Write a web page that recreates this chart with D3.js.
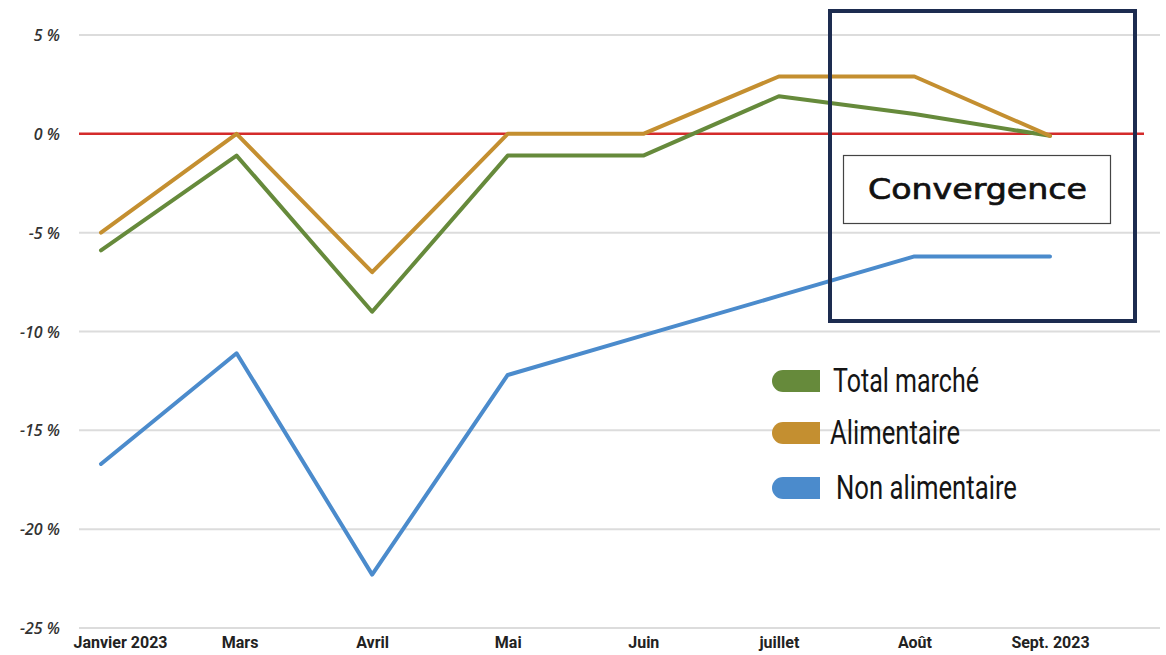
<!doctype html>
<html lang="fr">
<head>
<meta charset="utf-8">
<style>
html, body {
    margin: 0;
    padding: 0;
    background: #fff;
    overflow: hidden;
}
svg {
    display: block;
}
.grid line {
    stroke: #dcdcdc;
    stroke-width: 2;
}
.axis path, .axis line {
    display: none;
}
.y-axis text {
    font-family: "Open Sans", sans-serif;
    font-style: italic;
    font-weight: 600;
    font-size: 16px;
    fill: #333;
}
.x-axis text {
    font-family: "Liberation Sans Narrow", "Roboto", sans-serif;
    font-weight: bold;
    font-size: 16px;
    fill: #222;
}
.serie {
    fill: none;
    stroke-width: 4;
    stroke-linecap: round;
    stroke-linejoin: round;
}
.legend text {
    font-family: "Liberation Sans Narrow", "Roboto", sans-serif;
    font-size: 34px;
    fill: #151515;
}
</style>
</head>
<body>
<svg id="chart" width="1166" height="655"></svg>
<script src="https://cdnjs.cloudflare.com/ajax/libs/d3/7.8.5/d3.min.js"></script>
<script>
const mois = ['Janvier 2023', 'Mars', 'Avril', 'Mai', 'Juin', 'juillet', 'Août', 'Sept. 2023'];
const totalMarche = [-5.9, -1.1, -9.0, -1.1, -1.1, 1.9, 1.0, -0.1];
const alimentaire = [-5.0, 0.0, -7.0, 0.0, 0.0, 2.9, 2.9, -0.1];
const nonAlimentaire = [-16.7, -11.1, -22.3, -12.2, -10.2, -8.2, -6.2, -6.2];
const yTicks = [5, 0, -5, -10, -15, -20, -25];
const seriesNames = ['Total marché', 'Alimentaire', 'Non alimentaire'];
const couleurs = ['#668a3b', '#c48f30', '#4b8bcc'];

const svg = d3.select('#chart');

const x = d3.scalePoint().domain(mois).range([101, 1050]);
const y = d3.scaleLinear().domain([-25, 5]).range([628, 35]);

// grille horizontale
svg.append('g').attr('class', 'grid')
    .selectAll('line').data(yTicks.filter(d => d !== 0)).join('line')
    .attr('x1', 79).attr('x2', 1160)
    .attr('y1', d => y(d)).attr('y2', d => y(d));

// ligne zéro en rouge
svg.append('line')
    .attr('x1', 79).attr('x2', 1144)
    .attr('y1', y(0)).attr('y2', y(0))
    .attr('stroke', '#d42b2b').attr('stroke-width', 2.5);

// axe y
const yAxis = svg.append('g').attr('class', 'axis y-axis')
    .attr('transform', 'translate(64,0)')
    .call(d3.axisLeft(y).tickValues(yTicks).tickSize(0).tickPadding(4).tickFormat(d => `${d} %`));
yAxis.selectAll('text').attr('dy', '0.35em');

// axe x
const xAxis = svg.append('g').attr('class', 'axis x-axis')
    .attr('transform', 'translate(0,633)')
    .call(d3.axisBottom(x).tickSize(0).tickPadding(4));
xAxis.selectAll('text').attr('dx', (d, i) => i === 0 ? 19 : (i === 1 ? 3 : 0));

// courbes
const line = d3.line().x((d, i) => x(mois[i])).y(d => y(d));
const data = [totalMarche, alimentaire, nonAlimentaire];
// ordre de tracé : non alimentaire, total, alimentaire
[2, 0, 1].forEach(k => {
    svg.append('path').attr('class', 'serie')
        .attr('d', line(data[k]))
        .attr('stroke', couleurs[k])
        .attr('stroke-width', k === 2 ? 4.5 : 4);
});

// cadre "Convergence"
svg.append('rect')
    .attr('x', 830).attr('y', 11).attr('width', 305).attr('height', 310)
    .attr('fill', 'none').attr('stroke', '#1d2c50').attr('stroke-width', 4);
svg.append('rect')
    .attr('x', 843.5).attr('y', 155.5).attr('width', 267).attr('height', 68)
    .attr('fill', '#fff').attr('stroke', '#444').attr('stroke-width', 1.2);
svg.append('text')
    .attr('x', 868).attr('y', 199)
    .attr('font-family', '"DejaVu Sans", sans-serif')
    .attr('font-size', 28)
    .attr('textLength', 219)
    .attr('lengthAdjust', 'spacingAndGlyphs')
    .attr('fill', '#111')
    .attr('stroke', '#111')
    .attr('stroke-width', 0.7)
    .text('Convergence');

// légende
const legendY = [381, 433, 488];
const legendTextX = [833, 830, 836];
const legendWidths = [146, 130, 181];
const legend = svg.append('g').attr('class', 'legend');
seriesNames.forEach((nom, i) => {
    const cy = legendY[i], x0 = 772, w = 48, h = 22, r = 11;
    legend.append('path')
        .attr('d', `M${x0 + r},${cy - h / 2} H${x0 + w} V${cy + h / 2} H${x0 + r} A${r},${r} 0 0 1 ${x0 + r},${cy - h / 2} Z`)
        .attr('fill', couleurs[i]);
    legend.append('text')
        .attr('x', legendTextX[i]).attr('y', cy + 11)
        .attr('textLength', legendWidths[i])
        .attr('lengthAdjust', 'spacingAndGlyphs')
        .text(nom);
});
</script>
</body>
</html>
